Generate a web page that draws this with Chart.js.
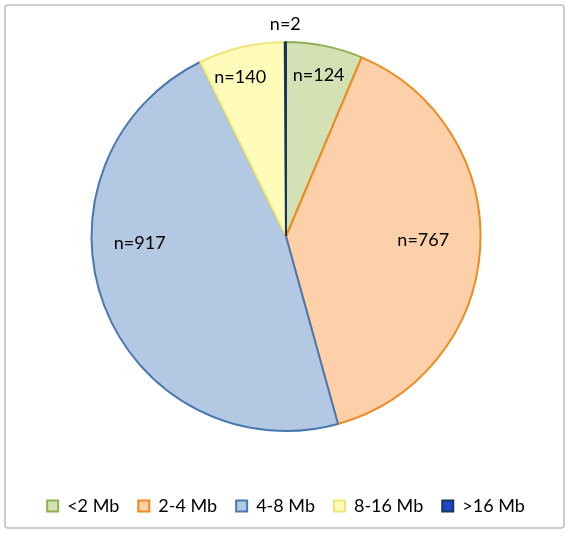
<!DOCTYPE html>
<html>
<head>
<meta charset="utf-8">
<script src="https://cdn.jsdelivr.net/npm/chart.js@4/dist/chart.umd.min.js"></script>
<style>
html,body{margin:0;padding:0;background:#fff;}
#wrap{position:relative;width:570px;height:536px;}
</style>
</head>
<body>
<div id="wrap"><canvas id="c" width="570" height="536"></canvas></div>
<script>
const categories = ['<2 Mb', '2-4 Mb', '4-8 Mb', '8-16 Mb', '>16 Mb'];
const counts = [124, 767, 917, 140, 2];
const sliceLabels = ['n=124', 'n=767', 'n=917', 'n=140', 'n=2'];

const fills = ['#d3e1b5', '#fdd0aa', '#b3c8e2', '#fffbb8', '#1f45c8'];
const borders = ['#8fb050', '#f08a1e', '#4a78b0', '#f2e47a', '#17365d'];
const labelRadius = [0.845, 0.706, 0.753, 0.85, 1.09];
const labelAngleShift = [0, -2, 18.4, -2.8, 0];

const FONT = 'Lato, "Open Sans", sans-serif';

const framePlugin = {
  id: 'frame',
  beforeDraw(chart) {
    const ctx = chart.ctx;
    ctx.save();
    ctx.strokeStyle = '#bdbdbd';
    ctx.lineWidth = 1.5;
    ctx.beginPath();
    if (ctx.roundRect) ctx.roundRect(5, 5, 559, 523, 3); else ctx.rect(5, 5, 559, 523);
    ctx.stroke();
    ctx.restore();
  }
};

const labelPlugin = {
  id: 'sliceLabels',
  afterDatasetsDraw(chart) {
    const ctx = chart.ctx;
    const meta = chart.getDatasetMeta(0);
    ctx.save();
    ctx.font = '18px ' + FONT;
    ctx.fillStyle = '#000';
    ctx.textAlign = 'center';
    ctx.textBaseline = 'middle';
    meta.data.forEach((arc, i) => {
      const p = arc.getProps(['x', 'y', 'startAngle', 'endAngle', 'outerRadius'], true);
      const mid = (p.startAngle + p.endAngle) / 2 + labelAngleShift[i] * Math.PI / 180;
      const r = p.outerRadius * labelRadius[i];
      ctx.fillText(sliceLabels[i], p.x + Math.cos(mid) * r, p.y + Math.sin(mid) * r);
    });
    ctx.restore();
  }
};

new Chart(document.getElementById('c'), {
  type: 'pie',
  data: {
    labels: categories,
    datasets: [{
      data: counts,
      backgroundColor: fills,
      borderColor: borders,
      borderWidth: 2
    }]
  },
  options: {
    responsive: false,
    animation: false,
    layout: { padding: { top: 41, left: 2, right: 0, bottom: 11 } },
    plugins: {
      tooltip: { enabled: false },
      legend: {
        position: 'bottom',
        title: { display: true, text: ' ', font: { size: 10 }, padding: 17 },
        labels: {
          boxWidth: 11,
          boxHeight: 11,
          padding: 19,
          color: '#000',
          font: { family: FONT, size: 18 }
        }
      }
    }
  },
  plugins: [framePlugin, labelPlugin]
});
</script>
</body>
</html>
